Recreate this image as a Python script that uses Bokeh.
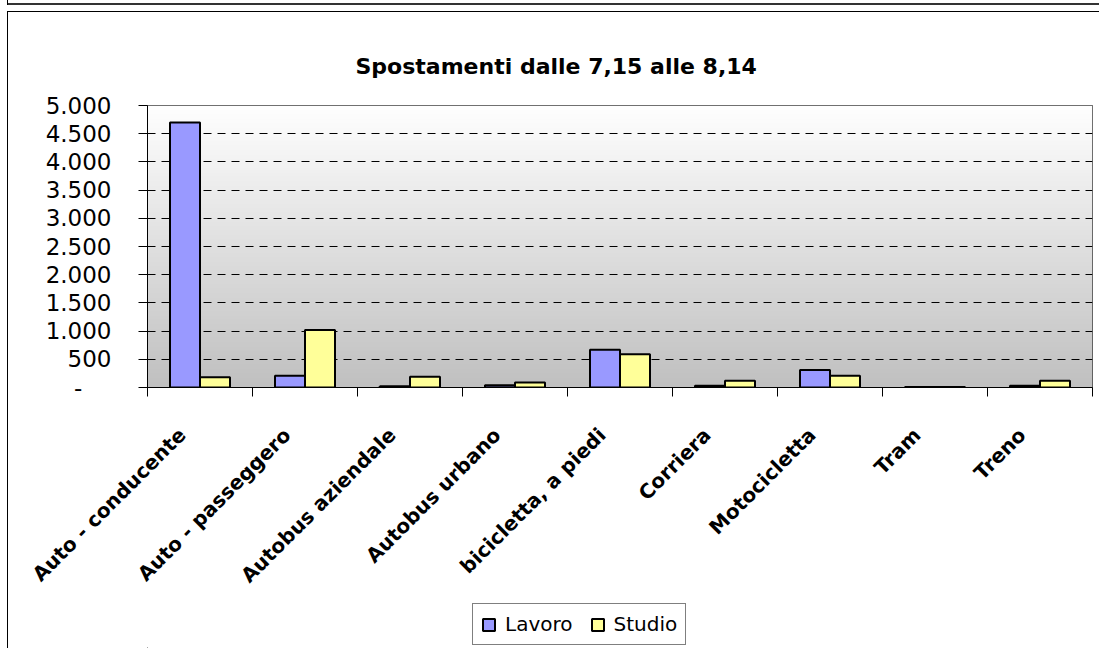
import numpy as np
from bokeh.plotting import figure
from bokeh.layouts import column
from bokeh.models import (Range1d, FixedTicker, CustomJSTickFormatter, Legend, LegendItem,
                          Title, ColumnDataSource)
from bokeh.transform import dodge
from bokeh.embed import file_html
from bokeh.resources import INLINE

# ---- data ----
categories = ["Auto - conducente", "Auto - passeggero", "Autobus aziendale", "Autobus urbano",
              "bicicletta, a piedi", "Corriera", "Motocicletta", "Tram", "Treno"]
lavoro = [4700, 210, 20, 40, 670, 30, 310, 10, 30]
studio = [180, 1020, 190, 90, 590, 120, 210, 10, 120]
series_names = ["Lavoro", "Studio"]
y_ticks = [0, 500, 1000, 1500, 2000, 2500, 3000, 3500, 4000, 4500, 5000]
title_text = "Spostamenti dalle 7,15 alle 8,14"

colors = ["#9999FF", "#FFFF99"]
n = len(categories)

src = ColumnDataSource(dict(pos=[i + 0.5 for i in range(n)], cat=categories,
                            lavoro=lavoro, studio=studio))

p = figure(width=1099, height=600, output_backend="svg", toolbar_location=None,
           x_range=Range1d(0, n), y_range=Range1d(0, max(y_ticks)),
           min_border_left=147, min_border_top=105, min_border_right=7, min_border_bottom=213,
           title=None)
p.margin = (0, 0, 0, 0)
# outer chart frame lines drawn as CSS background behind a transparent border area
p.styles = {
    "background-color": "white",
    "background-image": ("linear-gradient(#333,#333), linear-gradient(#000,#000), "
                         "linear-gradient(#000,#000), linear-gradient(#000,#000)"),
    "background-size": "1091px 2px, 1092px 1px, 1px 589px, 1px 5px",
    "background-position": "8px 3px, 7px 11px, 7px 11px, 7px 0px",
    "background-repeat": "no-repeat",
}
p.background_fill_color = "white"
p.border_fill_color = "white"
p.border_fill_alpha = 0
p.outline_line_color = "#404040"
p.outline_line_width = 1

# gradient background in the plot area
rows = 300
g = np.linspace(192, 255, rows).astype(np.uint8)
img = np.empty((rows, 1), dtype=np.uint32)
view = img.view(dtype=np.uint8).reshape((rows, 1, 4))
view[:, 0, 0] = g
view[:, 0, 1] = g
view[:, 0, 2] = g
view[:, 0, 3] = 255
p.image_rgba(image=[img], x=p.x_range.start, y=p.y_range.start,
             dw=p.x_range.end - p.x_range.start, dh=p.y_range.end - p.y_range.start,
             level="image")

bw = 0.2857
r1 = p.vbar(x=dodge("pos", -bw / 2, range=p.x_range), top="lavoro", width=bw, source=src,
            fill_color=colors[0], line_color="black", line_width=2)
r2 = p.vbar(x=dodge("pos", bw / 2, range=p.x_range), top="studio", width=bw, source=src,
            fill_color=colors[1], line_color="black", line_width=2)

# y axis
yax = p.yaxis[0]
yax.ticker = FixedTicker(ticks=y_ticks, minor_ticks=[])
yax.formatter = CustomJSTickFormatter(code="""
if (Math.abs(tick) < 1e-9) { return "-\u2007\u2007"; }
const s = Math.round(tick).toString();
return s.replace(/\\B(?=(\\d{3})+(?!\\d))/g, ".");
""")
yax.major_label_text_font = "DejaVu Sans"
yax.major_label_text_font_size = "23px"
yax.major_label_text_color = "black"
yax.major_tick_out = 9
yax.major_tick_in = 0
yax.major_tick_line_color = "black"
yax.axis_line_color = "black"
yax.major_label_standoff = 27

# x axis: ticks at category boundaries (minor), labels near category centres
label_shift = 0.171
xax = p.xaxis[0]
xax.ticker = FixedTicker(ticks=[i + 0.5 - label_shift for i in range(n)],
                         minor_ticks=list(range(n + 1)))
xax.formatter = CustomJSTickFormatter(args=dict(cats=categories),
                                      code="return cats[Math.round(tick)] || '';")
xax.major_label_orientation = np.pi / 4
xax.major_label_text_font = "DejaVu Sans"
xax.major_label_text_font_style = "bold"
xax.major_label_text_font_size = "20px"
xax.major_label_text_color = "black"
xax.major_tick_out = 0
xax.major_tick_in = 0
xax.minor_tick_out = 9
xax.minor_tick_in = 0
xax.minor_tick_line_color = "black"
xax.axis_line_color = "black"
xax.major_label_standoff = 35

# grid
p.xgrid.visible = False
p.ygrid.ticker = FixedTicker(ticks=y_ticks)
p.ygrid.grid_line_color = "black"
p.ygrid.grid_line_dash = "8 6"
p.ygrid.grid_line_width = 1

# title
t = Title(text=title_text, align="left", offset=208, text_font="DejaVu Sans",
          text_font_style="bold", text_font_size="22px", text_color="black", standoff=54)
p.add_layout(t, "above")

# ---- legend strip (bottom part of the chart frame) ----
q = figure(width=1099, height=48, output_backend="svg", toolbar_location=None,
           x_range=Range1d(0, 1), y_range=Range1d(0, 1),
           min_border=0, x_axis_type=None, y_axis_type=None, title=None)
q.margin = (0, 0, 0, 0)
q.styles = {
    "background-color": "white",
    "background-image": "linear-gradient(#000,#000)",
    "background-size": "1px 48px",
    "background-position": "7px 0px",
    "background-repeat": "no-repeat",
}
q.background_fill_alpha = 0
q.border_fill_alpha = 0
q.outline_line_color = None
q.xgrid.visible = False
q.ygrid.visible = False
# legend proxies (kept far outside the visible range of this strip)
l1 = q.vbar(x=[-1000], top=[-1000], bottom=[-1001], width=1, fill_color=colors[0],
            line_color="black", line_width=2)
l2 = q.vbar(x=[-1000], top=[-1000], bottom=[-1001], width=1, fill_color=colors[1],
            line_color="black", line_width=2)

legend = Legend(items=[LegendItem(label=series_names[0], renderers=[l1]),
                       LegendItem(label=series_names[1], renderers=[l2])],
                orientation="horizontal", location=(325, 3))
legend.border_line_color = "black"
legend.border_line_width = 1
legend.background_fill_color = "white"
legend.background_fill_alpha = 1
legend.label_text_font = "DejaVu Sans"
legend.label_text_font_size = "20px"
legend.label_text_color = "black"
legend.glyph_width = 15
legend.glyph_height = 15
legend.label_standoff = 9
legend.spacing = 17
legend.padding = 8
legend.margin = 0
q.add_layout(legend, "center")

layout = column(p, q, spacing=0)
layout.margin = (0, 0, 0, 0)

open("out.html", "w").write(file_html(layout, INLINE))
